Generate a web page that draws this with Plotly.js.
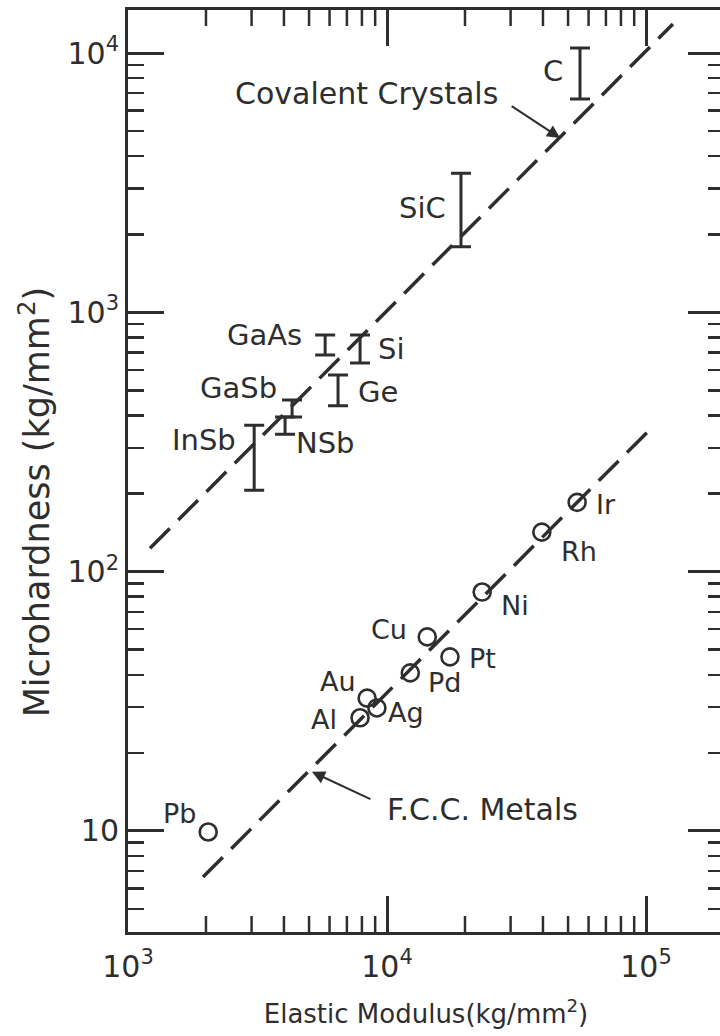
<!DOCTYPE html>
<html>
<head>
<meta charset="utf-8">
<script src="https://cdn.plot.ly/plotly-3.0.1.min.js"></script>
<style>
  html, body { margin: 0; padding: 0; background: #fff; overflow: hidden; }
  #chart { width: 730px; height: 1036px; }
</style>
</head>
<body>
<div id="chart"></div>
<script>
// ---------- data ----------
const metalNames    = ['Pb', 'Al', 'Ag', 'Au', 'Pd', 'Cu', 'Pt', 'Ni', 'Rh', 'Ir'];
const metalModulus  = [2040, 7870, 9140, 8380, 12300, 14300, 17500, 23300, 39600, 54200];
const metalHardness = [9.9, 27.3, 29.8, 32.5, 40.7, 56.0, 46.9, 83.4, 142, 185];

const crystalNames        = ['C', 'SiC', 'Si', 'GaAs', 'Ge', 'GaSb', 'NSb', 'InSb'];
const crystalModulus      = [55600, 19300, 7870, 5770, 6470, 4300, 4040, 3070];
const crystalHardnessLow  = [6650, 1790, 638, 684, 436, 395, 339, 206];
const crystalHardnessHigh = [10450, 3440, 818, 818, 573, 459, 395, 367];

const covalentLineModulus  = [1216, 127000];
const covalentLineHardness = [123, 12940];
const fccLineModulus       = [1948, 102000];
const fccLineHardness      = [6.64, 348];

const xTickVals  = [1000, 10000, 100000];
const xTickText  = ['10<sup>3</sup>', '10<sup>4</sup>', '10<sup>5</sup>'];
const yTickVals  = [10, 100, 1000, 10000];
const yTickText  = ['10', '10<sup>2</sup>', '10<sup>3</sup>', '10<sup>4</sup>'];
const xMinorVals = [2000, 3000, 4000, 5000, 6000, 7000, 8000, 9000,
                    20000, 30000, 40000, 50000, 60000, 70000, 80000, 90000];
const yMinorVals = [5, 6, 7, 8, 9, 20, 30, 40, 50, 60, 70, 80, 90,
                    200, 300, 400, 500, 600, 700, 800, 900,
                    2000, 3000, 4000, 5000, 6000, 7000, 8000, 9000];

const xTitle = 'Elastic Modulus(kg/mm<sup>2</sup>)';
const yTitle = 'Microhardness (kg/mm<sup>2</sup>)';

// ---------- styling / placement ----------
const INK = '#2e2e2e';
const FONT = 'DejaVu Sans, Verdana, sans-serif';
const X_RANGE = [3, 5.301];
const Y_RANGE = [0.610, 4.166];
const MINOR_LEN = 16;
const MARGIN = {l: 128, r: 6, t: 10, b: 104};
const FIG_W = 730, FIG_H = 1036;
const PLOT_H = FIG_H - MARGIN.t - MARGIN.b;

// label placement relative to each mark (pixels)
const crystalLabelPlace = {
  'C':    {side: 'left',  dx: -15, dy: 3},
  'SiC':  {side: 'left',  dx: -13, dy: 2},
  'Si':   {side: 'right', dx: 16,  dy: 0},
  'GaAs': {side: 'left',  dx: -21, dy: 10},
  'Ge':   {side: 'right', dx: 18,  dy: -2},
  'GaSb': {side: 'left',  dx: -13, dy: 20},
  'NSb':  {side: 'right', dx: 9,   dy: -17},
  'InSb': {side: 'left',  dx: -16, dy: 18}
};
const metalLabelPlace = {
  'Pb': {side: 'left',  dx: -10, dy: 19},
  'Al': {side: 'left',  dx: -21, dy: -2},
  'Ag': {side: 'right', dx: 9,   dy: -5},
  'Au': {side: 'left',  dx: -9,  dy: 17},
  'Pd': {side: 'right', dx: 16,  dy: -10},
  'Cu': {side: 'left',  dx: -18, dy: 7},
  'Pt': {side: 'right', dx: 17,  dy: -2},
  'Ni': {side: 'right', dx: 17,  dy: -13},
  'Rh': {side: 'right', dx: 17,  dy: -19},
  'Ir': {side: 'right', dx: 17,  dy: -2}
};

const crystalCenter = crystalHardnessLow.map((lo, i) => Math.sqrt(lo * crystalHardnessHigh[i]));

const dashStyle = {color: INK, width: 3.5, dash: '28px,12px'};

const traces = [
  {
    x: covalentLineModulus, y: covalentLineHardness,
    type: 'scatter', mode: 'lines', line: dashStyle,
    hoverinfo: 'skip', showlegend: false
  },
  {
    x: fccLineModulus, y: fccLineHardness,
    type: 'scatter', mode: 'lines', line: dashStyle,
    hoverinfo: 'skip', showlegend: false
  },
  {
    x: crystalModulus, y: crystalCenter, text: crystalNames,
    type: 'scatter', mode: 'markers',
    marker: {size: 1, color: 'rgba(0,0,0,0)'},
    error_y: {
      type: 'data', symmetric: false,
      array: crystalHardnessHigh.map((h, i) => h - crystalCenter[i]),
      arrayminus: crystalCenter.map((c, i) => c - crystalHardnessLow[i]),
      color: INK, thickness: 3, width: 10
    },
    showlegend: false
  },
  {
    x: metalModulus, y: metalHardness, text: metalNames,
    type: 'scatter', mode: 'markers',
    marker: {symbol: 'circle-open', size: 17, color: INK, line: {width: 2.6, color: INK}},
    showlegend: false
  },
  // invisible copy on the overlay y axis that carries the minor y ticks
  {
    x: metalModulus, y: metalHardness, xaxis: 'x', yaxis: 'y2',
    type: 'scatter', mode: 'markers',
    marker: {size: 1, color: 'rgba(0,0,0,0)'},
    hoverinfo: 'skip', showlegend: false
  }
];

const annotations = [];
crystalNames.forEach((n, i) => {
  const p = crystalLabelPlace[n];
  annotations.push({
    x: Math.log10(crystalModulus[i]), y: Math.log10(crystalCenter[i]),
    xref: 'x', yref: 'y', text: n, showarrow: false,
    xanchor: p.side === 'left' ? 'right' : 'left', yanchor: 'middle',
    xshift: p.dx, yshift: p.dy,
    font: {family: FONT, size: 29, color: INK}
  });
});
metalNames.forEach((n, i) => {
  const p = metalLabelPlace[n];
  annotations.push({
    x: Math.log10(metalModulus[i]), y: Math.log10(metalHardness[i]),
    xref: 'x', yref: 'y', text: n, showarrow: false,
    xanchor: p.side === 'left' ? 'right' : 'left', yanchor: 'middle',
    xshift: p.dx, yshift: p.dy,
    font: {family: FONT, size: 27, color: INK}
  });
});
// group labels and their arrows
annotations.push({
  x: Math.log10(8300), y: Math.log10(7010), xref: 'x', yref: 'y',
  text: 'Covalent Crystals', showarrow: false,
  font: {family: FONT, size: 30, color: INK}
});
annotations.push({
  x: Math.log10(46600), y: Math.log10(4700), xref: 'x', yref: 'y',
  text: '', showarrow: true, ax: -50, ay: -33, axref: 'pixel', ayref: 'pixel',
  arrowhead: 2, arrowsize: 1.3, arrowwidth: 2, arrowcolor: INK
});
annotations.push({
  x: Math.log10(23300), y: Math.log10(12.1), xref: 'x', yref: 'y',
  text: 'F.C.C. Metals', showarrow: false,
  font: {family: FONT, size: 30, color: INK}
});
annotations.push({
  x: Math.log10(5130), y: Math.log10(16.9), xref: 'x', yref: 'y',
  text: '', showarrow: true, ax: 60, ay: 28, axref: 'pixel', ayref: 'pixel',
  arrowhead: 2, arrowsize: 1.3, arrowwidth: 2, arrowcolor: INK
});
// y-axis title (sits a little below the axis centre in the reference)
annotations.push({
  xref: 'paper', yref: 'paper', x: -0.156, y: 0.466,
  xanchor: 'center', yanchor: 'middle', textangle: -90,
  text: yTitle, showarrow: false,
  font: {family: FONT, size: 35, color: INK}
});

// minor x ticks on the bottom and top edges (position along the log axis range)
const xFrac = v => (Math.log10(v) - X_RANGE[0]) / (X_RANGE[1] - X_RANGE[0]);
const tickFrac = MINOR_LEN / PLOT_H;
const shapes = [];
xMinorVals.forEach(v => {
  const f = xFrac(v);
  shapes.push({
    type: 'line', xref: 'paper', yref: 'paper',
    x0: f, x1: f, y0: 0, y1: tickFrac,
    line: {color: INK, width: 2.5}, layer: 'above'
  });
  shapes.push({
    type: 'line', xref: 'paper', yref: 'paper',
    x0: f, x1: f, y0: 1, y1: 1 - tickFrac,
    line: {color: INK, width: 2.5}, layer: 'above'
  });
});

const axisBase = {
  type: 'log',
  showgrid: false, zeroline: false,
  showline: true, linewidth: 3, linecolor: INK,
  mirror: 'ticks',
  ticks: 'inside', tickcolor: INK,
  tickmode: 'array'
};

const layout = {
  width: FIG_W, height: FIG_H,
  margin: MARGIN,
  paper_bgcolor: '#fff', plot_bgcolor: '#fff',
  showlegend: false,
  xaxis: Object.assign({}, axisBase, {
    range: X_RANGE,
    tickvals: xTickVals, ticktext: xTickText,
    ticklen: 36, tickwidth: 3,
    tickfont: {family: FONT, size: 30, color: INK},
    ticklabelstandoff: 6,
    title: {text: xTitle, standoff: 22,
            font: {family: FONT, size: 26, color: INK}}
  }),
  yaxis: Object.assign({}, axisBase, {
    range: Y_RANGE,
    tickvals: yTickVals, ticktext: yTickText,
    ticklen: 36, tickwidth: 3,
    tickfont: {family: FONT, size: 30, color: INK}
  }),
  yaxis2: Object.assign({}, axisBase, {
    range: Y_RANGE, overlaying: 'y', anchor: 'x', side: 'left',
    tickvals: yMinorVals, ticklen: MINOR_LEN, tickwidth: 2.5, showticklabels: false
  }),
  shapes: shapes,
  annotations: annotations
};

Plotly.newPlot('chart', traces, layout, {staticPlot: true, displayModeBar: false});
</script>
</body>
</html>
